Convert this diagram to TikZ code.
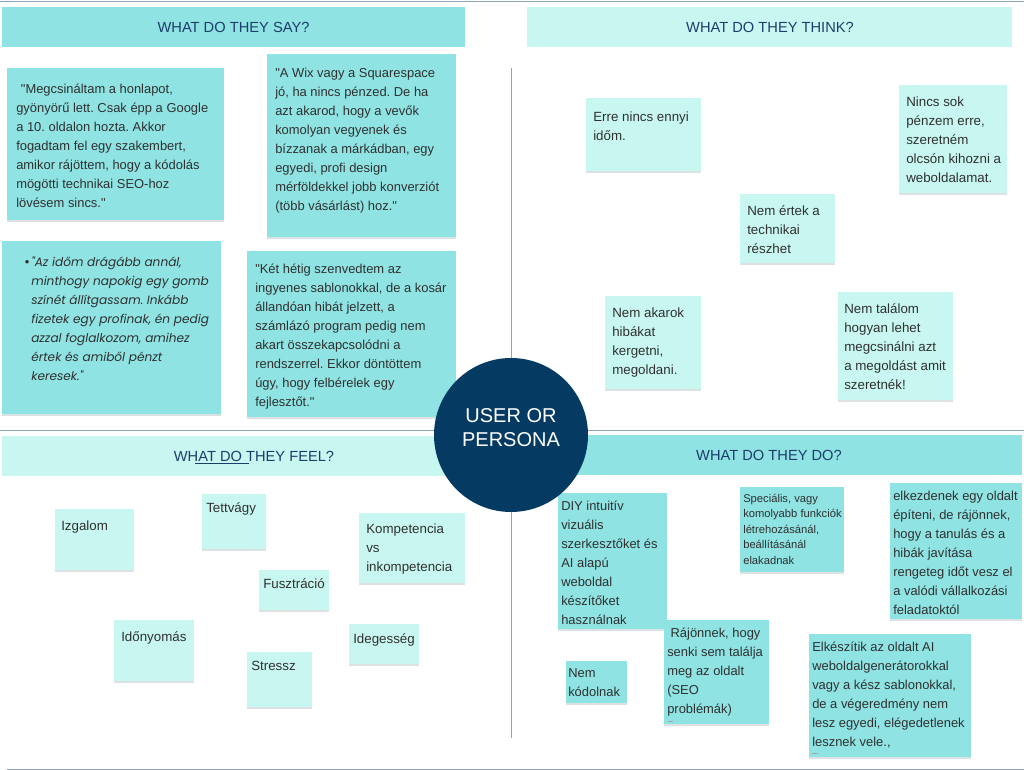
\documentclass[tikz,border=0pt]{standalone}
\usepackage{fontspec}
\setmainfont{Liberation Sans}[Ligatures=TeXOff]
\newfontfamily\popfont{Poppins}[Ligatures=TeXOff]
\frenchspacing
\usetikzlibrary{fit,shadows}
\definecolor{turq}{HTML}{8FE3E3}
\definecolor{pale}{HTML}{C8F7F1}
\definecolor{headc}{HTML}{1F3D6B}
\definecolor{navy}{HTML}{053A63}
\definecolor{rulec}{HTML}{8EA3BD}
\definecolor{txtc}{HTML}{303030}
\definecolor{shadc}{HTML}{DCE1E2}
\tikzset{
  notebase/.style={inner sep=0pt, draw=none, drop shadow={shadow xshift=0.3pt, shadow yshift=-1.8pt, fill=shadc, opacity=1}},
  turqnote/.style={notebase, fill=turq},
  palenote/.style={notebase, fill=pale},
  headbox/.style={inner sep=0pt, draw=none},
  headtext/.style={inner sep=0pt, text=headc, font=\fontsize{11}{13}\selectfont},
  body/.style={anchor=base west, inner sep=0pt, align=left, text=txtc, font=\frenchspacing\fontsize{9.7}{14.25}\selectfont},
  bodyb/.style={body, font=\frenchspacing\fontsize{10}{14.25}\selectfont},
  bodys/.style={body, font=\frenchspacing\fontsize{8.4}{11.7}\selectfont},
  bodyi/.style={body, font=\frenchspacing\popfont\itshape\fontsize{9.1}{14.25}\selectfont},
  rule/.style={draw=rulec, line width=0.7pt},
  tick/.style={draw=black!35, line width=0.6pt}
}
\begin{document}
\begin{tikzpicture}[x=0.75pt,y=-0.75pt]
\useasboundingbox (0,0) rectangle (1024,770);
% rules
\coordinate (tl) at (0,1); \coordinate (tr) at (1024,1);
\coordinate (ml) at (0,430); \coordinate (mr) at (1024,430);
\coordinate (bl) at (7,769); \coordinate (br) at (1024,769);
\coordinate (vt) at (511,68); \coordinate (vb) at (511,738);
\draw[rule] (tl) -- (tr);
\draw[rule] (ml) -- (mr);
\draw[rule] (bl) -- (br);
\draw[rule] (vt) -- (vb);
% headers
\node[headbox, fill=turq, fit={(2,7)(465,47)}] (sayh) {};
\node[headtext] (sayt) at (233.5,27) {WHAT DO THEY SAY?};
\node[headbox, fill=pale, fit={(527,7)(1012,47)}] (thinkh) {};
\node[headtext] (thinkt) at (770,27) {WHAT DO THEY THINK?};
\node[headbox, fill=pale, fit={(2,436)(465,476)}] (feelh) {};
\node[headtext] (feelt) at (254,456) {WHAT DO THEY FEEL?};
\coordinate (ul1) at (195,463); \coordinate (ul2) at (249,463);
\draw[headc, line width=0.5pt] (ul1) -- (ul2);
\node[headbox, fill=turq, fit={(558,435)(1022,475)}] (doh) {};
\node[headtext] (dot) at (769,455) {WHAT DO THEY DO?};
% SAY notes
\node[turqnote, fit={(7,68)(224,220)}] (s1) {};
\node[body] (s1t) at (16,207.5) {\hspace*{3.5pt}"Megcsináltam a honlapot,\\gyönyörű lett. Csak épp a Google\\a 10. oldalon hozta. Akkor\\fogadtam fel egy szakembert,\\amikor rájöttem, hogy a kódolás\\mögötti technikai SEO-hoz\\lövésem sincs."};
\node[turqnote, fit={(267,54)(456,237)}] (s2) {};
\node[body] (s2t) at (275,210.5) {"A Wix vagy a Squarespace\\jó, ha nincs pénzed. De ha\\azt akarod, hogy a vevők\\komolyan vegyenek és\\bízzanak a márkádban, egy\\egyedi, profi design\\mérföldekkel jobb konverziót\\(több vásárlást) hoz."};
\node[turqnote, fit={(2,241)(221,414)}] (s3) {};
\node[body] (s3b) at (24.5,266.5) {•};
\node[bodyi] (s3t) at (31,380.5) {"Az időm drágább annál,\\minthogy napokig egy gomb\\színét állítgassam. Inkább\\fizetek egy profinak, én pedig\\azzal foglalkozom, amihez\\értek és amiből pénzt\\keresek."};
\node[turqnote, fit={(247,251)(456,417)}] (s4) {};
\node[body] (s4t) at (255,406.5) {"Két hétig szenvedtem az\\ingyenes sablonokkal, de a kosár\\állandóan hibát jelzett, a\\számlázó program pedig nem\\akart összekapcsolódni a\\rendszerrel. Ekkor döntöttem\\úgy, hogy felbérelek egy\\fejlesztőt."};
% THINK notes
\node[palenote, fit={(586,98)(701,171)}] (t1) {};
\node[bodyb] (t1t) at (593,140.5) {Erre nincs ennyi\\időm.};
\node[palenote, fit={(899,85)(1007,193)}] (t2) {};
\node[bodyb] (t2t) at (906,182.5) {Nincs sok\\pénzem erre,\\szeretném\\olcsón kihozni a\\weboldalamat.};
\node[palenote, fit={(740,194)(835,263)}] (t3) {};
\node[bodyb] (t3t) at (747,253.5) {Nem értek a\\technikai\\részhet};
\node[palenote, fit={(605,296)(701,389)}] (t4) {};
\node[bodyb] (t4t) at (612,374.5) {Nem akarok\\hibákat\\kergetni,\\megoldani.};
\node[palenote, fit={(838,292)(953,400)}] (t5) {};
\node[bodyb] (t5t) at (844,389.5) {Nem találom\\hogyan lehet\\megcsinálni azt\\a megoldást amit\\szeretnék!};
% FEEL notes
\node[palenote, fit={(55,509)(134,570)}] (f1) {};
\node[bodyb] (f1t) at (61,530.5) {Izgalom};
\node[palenote, fit={(202,494)(266,549)}] (f2) {};
\node[bodyb] (f2t) at (206,512.5) {Tettvágy};
\node[palenote, fit={(359,513)(465,583)}] (f3) {};
\node[bodyb] (f3t) at (366,571.5) {Kompetencia\\vs\\inkompetencia};
\node[palenote, fit={(259,570)(329,610)}] (f4) {};
\node[bodyb] (f4t) at (263,588.5) {Fusztráció};
\node[palenote, fit={(114,620)(194,681)}] (f5) {};
\node[bodyb] (f5t) at (121,641.5) {Időnyomás};
\node[palenote, fit={(349,624)(419,664)}] (f6) {};
\node[bodyb] (f6t) at (353,643.5) {Idegesség};
\node[palenote, fit={(247,652)(312,707)}] (f7) {};
\node[bodyb] (f7t) at (251,670.5) {Stressz};
% DO notes
\node[turqnote, fit={(558,493)(667,629)}] (d1) {};
\node[body] (d1t) at (561,624.5) {DIY intuitív\\vizuális\\szerkesztőket és\\AI alapú\\weboldal\\készítőket\\használnak};
\node[turqnote, fit={(740,487)(844,572)}] (d2) {};
\node[bodys] (d2t) at (743,564.4) {Speciális, vagy\\komolyabb funkciók\\létrehozásánál,\\beállításánál\\elakadnak};
\node[turqnote, fit={(890,483)(1022,619)}] (d3) {};
\node[body] (d3t) at (893,614.5) {elkezdenek egy oldalt\\építeni, de rájönnek,\\hogy a tanulás és a\\hibák javítása\\rengeteg időt vesz el\\a valódi vállalkozási\\feladatoktól};
\node[turqnote, fit={(566,661)(627,703)}] (d4) {};
\node[body] (d4t) at (568,696.5) {Nem\\kódolnak};
\node[turqnote, fit={(664,620)(769,724)}] (d5) {};
\node[body] (d5t) at (667,713.5) {\hspace*{2.5pt}Rájönnek, hogy\\senki sem találja\\meg az oldalt\\(SEO\\problémák)};
\coordinate (d5a) at (668,721); \coordinate (d5b) at (673,721);
\draw[tick] (d5a) -- (d5b);
\node[turqnote, fit={(809,634)(971,757)}] (d6) {};
\node[body] (d6t) at (812,746.5) {Elkészítik az oldalt AI\\weboldalgenerátorokkal\\vagy a kész sablonokkal,\\de a végeredmény nem\\lesz egyedi, elégedetlenek\\lesznek vele.,};
\coordinate (d6a) at (812,753); \coordinate (d6b) at (818,753);
\draw[tick] (d6a) -- (d6b);
% persona
\node[circle, fill=navy, minimum size=115.5pt, inner sep=0pt] (persona) at (511,435) {};
\node[inner sep=0pt, align=center, text=white, font=\fontsize{15}{18}\selectfont] (personat) at (511,428) {USER OR\\PERSONA};
\end{tikzpicture}
\end{document}
